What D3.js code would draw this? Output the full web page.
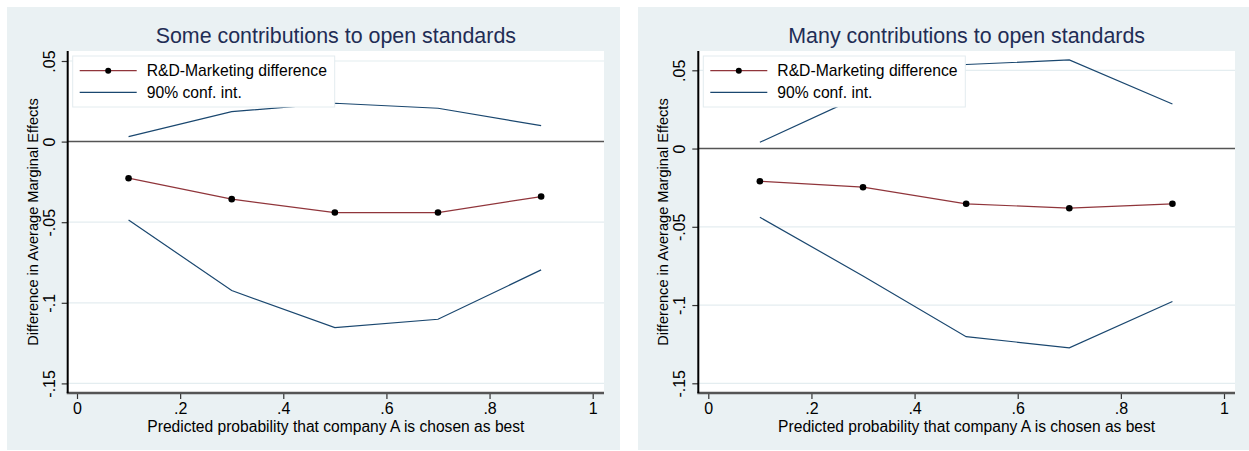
<!DOCTYPE html>
<html>
<head>
<meta charset="utf-8">
<script src="https://cdn.jsdelivr.net/npm/d3@7"></script>
<style>
  body { margin: 0; background: #fff; }
  svg { display: block; font-family: Arial, "Liberation Sans", sans-serif; }
</style>
</head>
<body>
<svg id="chart" width="1249" height="451"></svg>
<script>
// values
var probs = [0.1, 0.3, 0.5, 0.7, 0.9];

var someDiff  = [-0.0227, -0.0357, -0.0440, -0.0440, -0.0341];
var someUpper = [0.0031, 0.0186, 0.0238, 0.0207, 0.0099];
var someLower = [-0.0486, -0.0924, -0.1154, -0.1102, -0.0796];

var manyDiff  = [-0.0209, -0.0247, -0.0353, -0.0381, -0.0353];
var manyUpper = [0.0040, 0.0343, 0.0537, 0.0566, 0.0285];
var manyLower = [-0.0439, -0.0814, -0.1202, -0.1273, -0.0977];

var xTicks = [0, 0.2, 0.4, 0.6, 0.8, 1];
var xTickLabels = ["0", ".2", ".4", ".6", ".8", "1"];
var yTicks = [0.05, 0, -0.05, -0.1, -0.15];
var yTickLabels = [".05", "0", "-.05", "-.1", "-.15"];

var legendLabels = ["R&D-Marketing difference", "90% conf. int."];
var xTitle = "Predicted probability that company A is chosen as best";
var yTitle = "Difference in Average Marginal Effects";

var svg = d3.select("#chart");

function drawPanel(cfg) {
  var g = svg.append("g");

  // graph region
  g.append("rect")
    .attr("x", cfg.bg[0]).attr("y", 7)
    .attr("width", cfg.bg[1] - cfg.bg[0]).attr("height", 443)
    .style("fill", "#eaf1f3");

  var xScale = d3.scaleLinear()
      .domain([0, 1])
      .range([cfg.x0, cfg.x1]),
    yScale = d3.scaleLinear()
      .domain([0.05, -0.15])
      .range([cfg.y05, cfg.y15]);

  var L = cfg.left, R = cfg.right, T = 51, B = 393;

  // plot region
  g.append("rect")
    .attr("x", L).attr("y", T)
    .attr("width", R - L).attr("height", B - T)
    .style("fill", "#fff");

  // grid lines
  g.selectAll(".grid")
    .data(yTicks.filter(function(d) { return d !== 0; }))
    .enter().append("line")
    .attr("x1", L).attr("x2", R)
    .attr("y1", function(d) { return yScale(d); })
    .attr("y2", function(d) { return yScale(d); })
    .style("stroke", "#e4edf0")
    .style("stroke-width", 1.2);

  // zero reference line
  g.append("line")
    .attr("x1", L).attr("x2", R)
    .attr("y1", yScale(0)).attr("y2", yScale(0))
    .style("stroke", "#555")
    .style("stroke-width", 1.5);

  var line = d3.line()
    .x(function(d) { return xScale(d[0]); })
    .y(function(d) { return yScale(d[1]); });

  [cfg.upper, cfg.lower].forEach(function(vals) {
    g.append("path")
      .datum(d3.zip(probs, vals))
      .attr("d", line)
      .style("fill", "none")
      .style("stroke", "#1a476f")
      .style("stroke-width", 1.2);
  });

  g.append("path")
    .datum(d3.zip(probs, cfg.diff))
    .attr("d", line)
    .style("fill", "none")
    .style("stroke", "#90353b")
    .style("stroke-width", 1.2);

  g.selectAll(".pt")
    .data(d3.zip(probs, cfg.diff))
    .enter().append("circle")
    .attr("cx", function(d) { return xScale(d[0]); })
    .attr("cy", function(d) { return yScale(d[1]); })
    .attr("r", 3.3)
    .style("fill", "#000");

  // axes
  var xAxis = d3.axisBottom(xScale)
      .tickValues(xTicks)
      .tickSize(6)
      .tickFormat(function(d, i) { return xTickLabels[i]; }),
    yAxis = d3.axisLeft(yScale)
      .tickValues(yTicks)
      .tickSize(6)
      .tickFormat(function(d, i) { return yTickLabels[i]; });

  var gx = g.append("g")
    .attr("transform", "translate(0," + B + ")")
    .call(xAxis);
  gx.select(".domain").remove();
  gx.append("line")
    .attr("x1", L - 1).attr("x2", R)
    .style("stroke", "#555").style("stroke-width", 2.5);
  gx.selectAll(".tick line").style("stroke", "#333").style("stroke-width", 1.2);
  gx.selectAll(".tick text")
    .attr("y", 10)
    .attr("dy", "0.71em")
    .style("font-size", "16px")
    .style("font-family", "Arial, 'Liberation Sans', sans-serif")
    .style("fill", "#000");

  var gy = g.append("g")
    .attr("transform", "translate(" + L + ",0)")
    .call(yAxis);
  gy.select(".domain").remove();
  gy.append("line")
    .attr("y1", T).attr("y2", B)
    .style("stroke", "#000").style("stroke-width", 2);
  gy.selectAll(".tick line").style("stroke", "#333").style("stroke-width", 1.2);
  gy.selectAll(".tick text")
    .attr("x", 0).attr("dy", 0)
    .attr("transform", "translate(-13,0) rotate(-90)")
    .style("text-anchor", "middle")
    .style("font-size", "16px")
    .style("font-family", "Arial, 'Liberation Sans', sans-serif")
    .style("fill", "#000");

  // titles
  g.append("text")
    .attr("x", (L + R) / 2).attr("y", 43)
    .style("text-anchor", "middle")
    .style("font-size", "21.4px")
    .style("fill", "#1f2d55")
    .text(cfg.title);

  g.append("text")
    .attr("x", (L + R) / 2).attr("y", 432)
    .style("text-anchor", "middle")
    .style("font-size", "15.6px")
    .style("fill", "#000")
    .text(xTitle);

  g.append("text")
    .attr("transform", "translate(" + (L - 30) + "," + ((T + B) / 2) + ") rotate(-90)")
    .style("text-anchor", "middle")
    .style("font-size", "14.6px")
    .style("fill", "#000")
    .text(yTitle);

  // legend
  var lx = L + 5;
  var lg = g.append("g").attr("transform", "translate(" + lx + ",56)");
  lg.append("rect")
    .attr("width", 262).attr("height", 51)
    .style("fill", "#fff")
    .style("stroke", "#e3ecef")
    .style("stroke-width", 1);
  var rows = [14.7, 36.3];
  lg.append("line")
    .attr("x1", 7).attr("x2", 64).attr("y1", rows[0]).attr("y2", rows[0])
    .style("stroke", "#90353b").style("stroke-width", 1.2);
  lg.append("circle")
    .attr("cx", 35.5).attr("cy", rows[0]).attr("r", 3)
    .style("fill", "#000");
  lg.append("line")
    .attr("x1", 7).attr("x2", 64).attr("y1", rows[1]).attr("y2", rows[1])
    .style("stroke", "#1a476f").style("stroke-width", 1.2);
  lg.selectAll(".lt")
    .data(legendLabels)
    .enter().append("text")
    .attr("x", 74)
    .attr("y", function(d, i) { return rows[i] + 5.5; })
    .style("font-size", "15.7px")
    .style("fill", "#000")
    .text(function(d) { return d; });
}

drawPanel({
  title: "Some contributions to open standards",
  bg: [7, 620],
  left: 67.7, right: 604,
  x0: 77, x1: 592.7,
  y05: 61, y15: 383.4,
  diff: someDiff, upper: someUpper, lower: someLower
});

drawPanel({
  title: "Many contributions to open standards",
  bg: [638, 1249],
  left: 698.3, right: 1235,
  x0: 708.3, x1: 1224,
  y05: 70.3, y15: 383.3,
  diff: manyDiff, upper: manyUpper, lower: manyLower
});
</script>
</body>
</html>
